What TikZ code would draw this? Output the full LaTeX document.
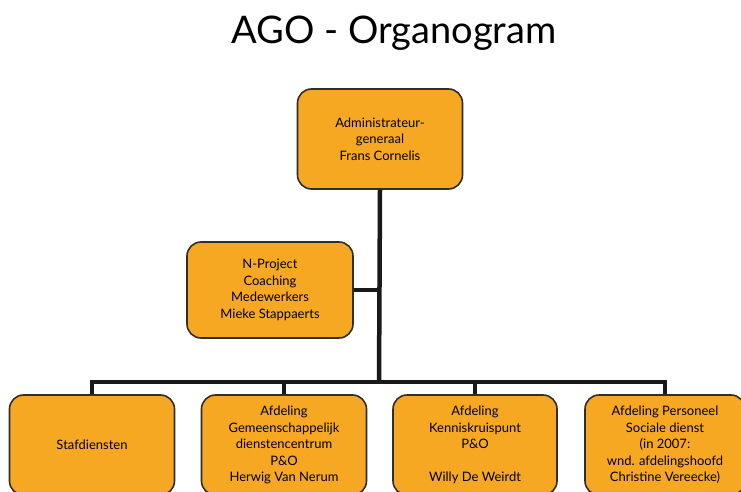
\documentclass[tikz,border=0pt]{standalone}
\usepackage{fontspec}
\setmainfont{Lato}
\usetikzlibrary{calc}
\definecolor{agoorange}{HTML}{F7A823}
\definecolor{agoline}{HTML}{2E2E2E}
\tikzset{
	orgbox/.style={draw=agoline, line width=1.6pt, fill=agoorange, rounded corners=14pt,
		align=center, inner sep=0pt, font=\fontsize{13}{16.5}\selectfont},
	link/.style={line width=4.5pt, color=black!90}
}

\begin{document}
\begin{tikzpicture}[x=1pt, y=-1pt]
		%%%%% START %%%%%
		\useasboundingbox (0, 0) rectangle (741, 492);
		\clip (0, 0) rectangle (741, 492);
		
		\node[font=\fontsize{38}{42}\selectfont] (title) at (394, 33) {AGO - Organogram};
		
		\node[orgbox, minimum width=165pt, minimum height=100pt] (ag) at (380, 139) {Administrateur-\\generaal\\Frans Cornelis};
		\node[orgbox, minimum width=166pt, minimum height=96pt] (coach) at (270, 290) {N-Project\\Coaching\\Medewerkers\\Mieke Stappaerts};
		
		\node[orgbox, minimum width=165pt, minimum height=100pt] (staf) at (92, 445) {Stafdiensten};
		\node[orgbox, minimum width=165pt, minimum height=100pt] (gdc) at (284, 445) {Afdeling\\Gemeenschappelijk\\dienstencentrum\\P\&O\\Herwig Van Nerum};
		\node[orgbox, minimum width=164pt, minimum height=100pt] (kkp) at (475, 445) {Afdeling\\Kenniskruispunt\\P\&O\\[16.5pt]Willy De Weirdt};
		\node[orgbox, minimum width=160pt, minimum height=100pt] (pers) at (665, 445) {Afdeling Personeel\\Sociale dienst\\(in 2007:\\wnd. afdelingshoofd\\Christine Vereecke)};
		
		\coordinate (bus) at (379, 382);
		\draw[link] (ag.south) -- (bus);
		\draw[link] (coach.east) -- (coach.east -| bus);
		\draw[link] (staf.north) |- (bus) -| (pers.north);
		\draw[link] (gdc.north) -- (gdc.north |- bus);
		\draw[link] (kkp.north) -- (kkp.north |- bus);
		
		%%%%% END %%%%%
	\end{tikzpicture}
\end{document}
